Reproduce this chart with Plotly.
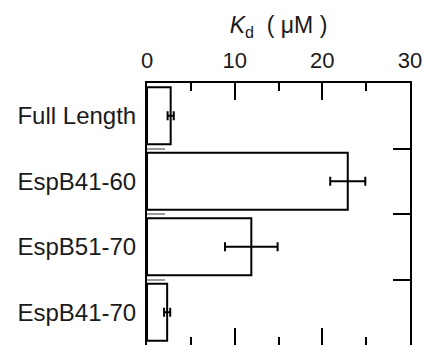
import plotly.graph_objects as go

categories = ["Full Length", "EspB41-60", "EspB51-70", "EspB41-70"]
kd_values = [2.7, 22.9, 11.9, 2.3]
kd_errors = [0.35, 2.0, 3.0, 0.35]
x_ticks = [0, 10, 20, 30]

positions = list(range(len(categories)))
boundaries = [p + 0.5 for p in positions[:-1]]

FONT = "Liberation Sans, Arial, sans-serif"
TXT = "#1a1a1a"

fig = go.Figure()
fig.add_trace(go.Bar(
    x=kd_values, y=positions, orientation="h", width=0.87,
    marker=dict(color="white", line=dict(color="black", width=2)),
    error_x=dict(type="data", array=kd_errors, visible=True,
                 color="black", thickness=2, width=4.5),
    showlegend=False, hoverinfo="skip",
))
# invisible trace to carry the right-hand axis
fig.add_trace(go.Scatter(x=[0], y=[0], yaxis="y2", mode="markers",
                         marker=dict(opacity=0), showlegend=False,
                         hoverinfo="skip"))

fig.update_layout(
    width=424, height=345,
    margin=dict(l=147, r=14, t=83, b=0),
    paper_bgcolor="white", plot_bgcolor="white",
    font=dict(family=FONT, color=TXT, size=22),
    title=dict(text="<i>K</i><sub>d</sub>\u00a0\u00a0(\u00a0μM\u00a0)",
               font=dict(size=23, family=FONT, color=TXT),
               xref="paper", x=0.5, xanchor="center",
               yref="container", y=1 - 25 / 345, yanchor="middle"),
    xaxis=dict(
        side="top", range=[0, 30], tickvals=x_ticks, automargin=False,
        ticks="inside", ticklen=17, tickwidth=2, tickcolor="black",
        minor=dict(dtick=5, tick0=0, ticks="inside", ticklen=8,
                   tickwidth=2, tickcolor="black", showgrid=False),
        showline=True, linecolor="black", linewidth=2, mirror="ticks",
        showgrid=False, zeroline=False,
        tickfont=dict(size=22, family=FONT, color=TXT),
        ticklabelstandoff=4,
    ),
    yaxis=dict(
        range=[3.5, -0.5], tickvals=positions, ticktext=categories,
        ticks="", showline=True, linecolor="black", linewidth=2,
        automargin=False,
        minor=dict(tickvals=boundaries, ticks="inside", ticklen=18,
                   tickwidth=2, tickcolor="#999999", showgrid=False),
        showgrid=False, zeroline=False,
        tickfont=dict(size=24, family=FONT, color=TXT),
        ticklabelstandoff=4,
    ),
    yaxis2=dict(
        overlaying="y", side="right", range=[3.5, -0.5], automargin=False,
        tickvals=boundaries, ticks="inside", ticklen=17, tickwidth=2,
        tickcolor="black", showticklabels=False,
        showline=True, linecolor="black", linewidth=2,
        showgrid=False, zeroline=False,
    ),
)

fig.write_html(
    "out.html",
    config={"displayModeBar": False},
    post_script="document.body.style.margin='0';document.body.style.overflow='hidden';",
)
